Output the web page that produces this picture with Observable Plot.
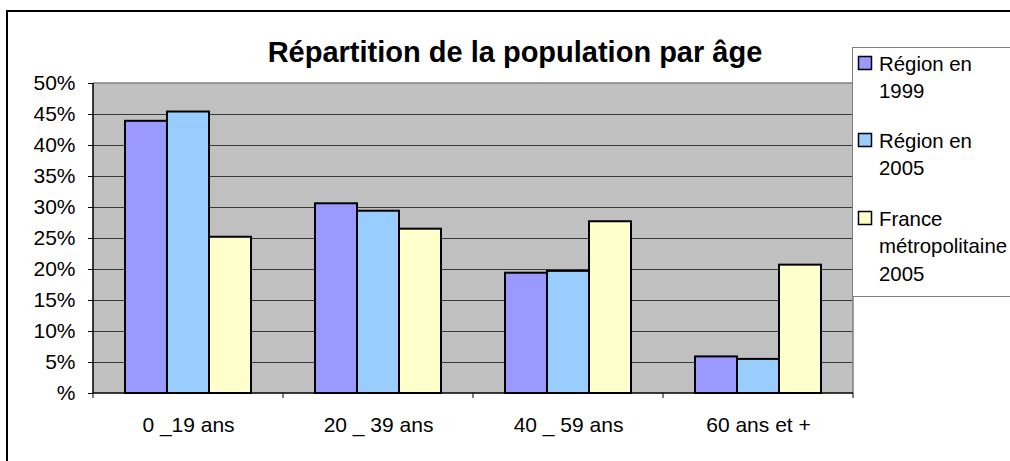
<!DOCTYPE html>
<html>
<head>
<meta charset="utf-8">
<script src="https://cdn.jsdelivr.net/npm/d3@7"></script>
<script src="https://cdn.jsdelivr.net/npm/@observablehq/plot@0.6"></script>
<style>
  html, body { margin: 0; padding: 0; background: #fff; }
  #chart { width: 1010px; height: 461px; overflow: hidden; }
</style>
</head>
<body>
<div id="chart"></div>
<script>
const title = "Répartition de la population par âge";
const categories = ["0 _19 ans", "20 _ 39 ans", "40 _ 59 ans", "60 ans et +"];
const series = ["Région en 1999", "Région en 2005", "France métropolitaine 2005"];
const region1999 = [43.9, 30.6, 19.4, 5.9];
const region2005 = [45.4, 29.4, 19.7, 5.5];
const france2005 = [25.2, 26.5, 27.7, 20.7];
const yTicks = [0, 5, 10, 15, 20, 25, 30, 35, 40, 45, 50];
const colors = ["#9999FF", "#99CCFF", "#FFFFCC"];
const legendLines = [["Région en", "1999"], ["Région en", "2005"], ["France", "métropolitaine", "2005"]];

const values = [region1999, region2005, france2005];
const data = [];
categories.forEach((c, i) => {
  series.forEach((s, j) => data.push({cat: c, series: s, value: values[j][i]}));
});

const FONT = "'Liberation Sans', Arial, Helvetica, sans-serif";

const chart = Plot.plot({
  width: 1010,
  height: 461,
  marginLeft: 91,
  marginRight: 156,
  marginTop: 83,
  marginBottom: 68,
  style: {fontFamily: FONT, fontSize: "21px", background: "transparent", color: "#000"},
  fx: {domain: categories, paddingInner: 0, paddingOuter: 0, label: null, axis: "bottom", tickSize: 0, tickPadding: 24},
  x: {domain: series, paddingInner: 0, paddingOuter: 0.75, axis: null},
  y: {domain: [0, 50], ticks: yTicks, tickFormat: d => d === 0 ? "%" : d + "%", label: null, tickSize: 5, tickPadding: 13},
  color: {domain: series, range: colors},
  marks: [
    Plot.gridY(yTicks.filter(d => d > 0 && d < 50), {stroke: "#3a3a3a", strokeOpacity: 1, strokeWidth: 1}),
    Plot.barY(data, {fx: "cat", x: "series", y: "value", fill: "series", stroke: "#000", strokeWidth: 2})
  ]
});

document.getElementById("chart").appendChild(chart);

const svg = d3.select(chart);
const y = chart.scale("y");
const fx = chart.scale("fx");
const x0 = fx.apply(categories[0]);
const x1 = fx.apply(categories[categories.length - 1]) + fx.bandwidth;
const yb = y.apply(0), yt = y.apply(50);

// plot area background (one rect, below all marks)
svg.insert("rect", ":first-child").attr("x", x0).attr("y", yt).attr("width", x1 - x0).attr("height", yb - yt).attr("fill", "#C0C0C0");

const g = svg.append("g");
// plot area border (top and right, gray)
g.append("path").attr("d", `M${x0},${yt}H${x1}V${yb}`).attr("fill", "none").attr("stroke", "#808080").attr("stroke-width", 1.5);
// axis lines
g.append("path").attr("d", `M${x0},${yt}V${yb}H${x1}`).attr("fill", "none").attr("stroke", "#000").attr("stroke-width", 1.5);
// category boundary ticks
const bounds = categories.map(c => fx.apply(c)).concat([x1]);
g.selectAll(".ct").data(bounds).join("line")
  .attr("x1", d => d).attr("x2", d => d).attr("y1", yb).attr("y2", yb + 5)
  .attr("stroke", "#000").attr("stroke-width", 1);

// title
svg.append("text").attr("x", 515).attr("y", 62).attr("text-anchor", "middle")
  .attr("font-family", FONT).attr("font-weight", "bold").attr("font-size", 29).attr("fill", "#000")
  .text(title);

// legend
const lg = svg.append("g").attr("font-family", FONT).attr("font-size", 20.4).attr("text-anchor", "start");
lg.append("rect").attr("x", 852.5).attr("y", 47.5).attr("width", 200).attr("height", 249)
  .attr("fill", "#fff").attr("stroke", "#808080").attr("stroke-width", 1);
const entryTop = [63, 140, 218];
legendLines.forEach((lines, i) => {
  lg.append("rect").attr("x", 858.5).attr("y", entryTop[i] - 6.5).attr("width", 13).attr("height", 13)
    .attr("fill", colors[i]).attr("stroke", "#000").attr("stroke-width", 1.5);
  lines.forEach((t, k) => {
    lg.append("text").attr("x", 879).attr("y", entryTop[i] + 7.5 + k * 27.5).attr("fill", "#000")
      .attr("text-anchor", "start").text(t);
  });
});

// outer frame
svg.append("path").attr("d", "M7,461V11H1010").attr("fill", "none").attr("stroke", "#000").attr("stroke-width", 2);
</script>
</body>
</html>
